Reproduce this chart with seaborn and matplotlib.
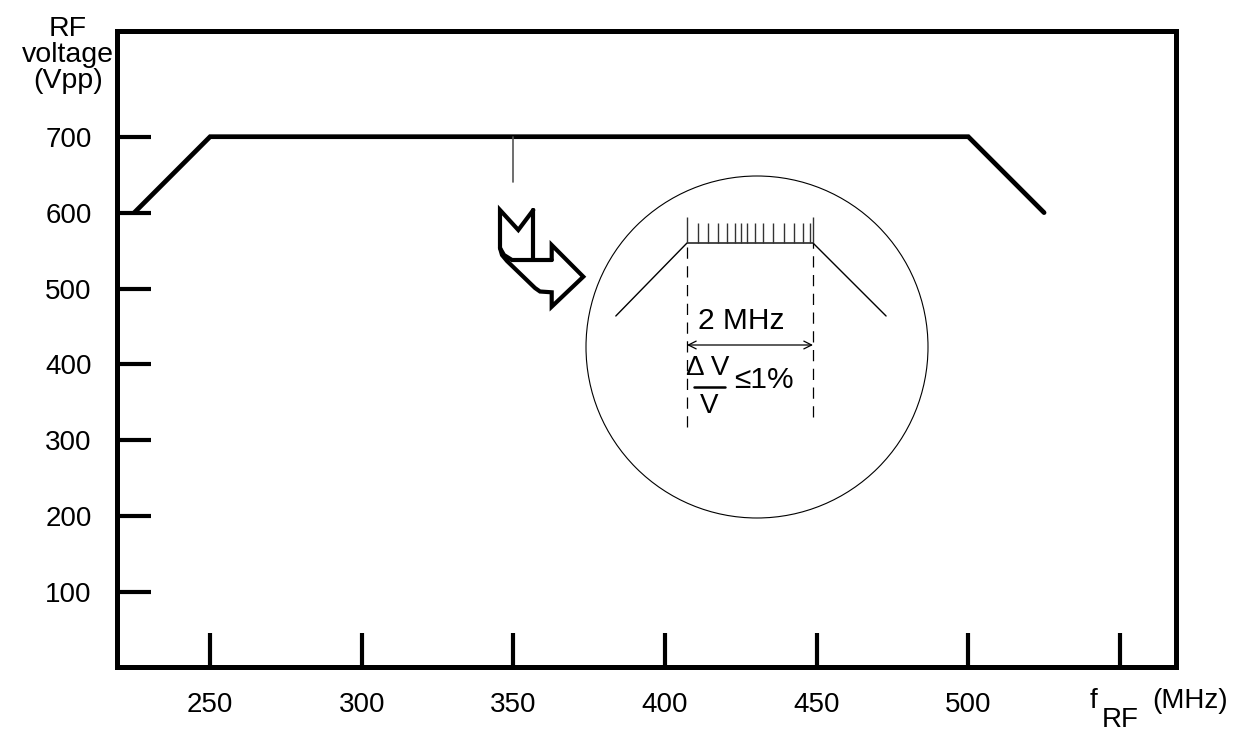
import matplotlib
matplotlib.use("Agg")
import matplotlib.pyplot as plt
import matplotlib.transforms as mtransforms
from matplotlib.patches import Ellipse
import seaborn as sns
import pandas as pd

# ---- data ----
freq_mhz = [225, 250, 500, 525]
rf_voltage = [600, 700, 700, 600]
x_ticks = [250, 300, 350, 400, 450, 500, 550]
x_tick_labels = ["250", "300", "350", "400", "450", "500", ""]
y_ticks = [100, 200, 300, 400, 500, 600, 700]
y_tick_labels = ["100", "200", "300", "400", "500", "600", "700"]
marker_freq = [350, 350]
marker_volt = [700, 640]

# inset detail (relative MHz around the marker, relative level)
detail_freq = [-2.13, -1.0, 1.0, 2.16]
detail_level = [-1.0, 0.0, 0.0, -1.0]
ripple_freq = [-0.995, -0.83, -0.67, -0.51, -0.36, -0.24, -0.14, -0.04,
               0.08, 0.2, 0.37, 0.54, 0.70, 0.84, 0.95, 1.0]
ripple_top = [0.35, 0.27, 0.27, 0.27, 0.27, 0.27, 0.27, 0.27,
              0.27, 0.27, 0.27, 0.27, 0.27, 0.27, 0.27, 0.35]

W, H = 1246, 734
sns.set_style("white")
FAM = ["Liberation Sans", "DejaVu Sans"]
plt.rcParams["font.family"] = FAM
plt.rcParams["text.color"] = "black"

fig = plt.figure(figsize=(W / 100, H / 100), dpi=100)
pix = mtransforms.Affine2D().scale(1 / W, -1 / H).translate(0, 1) + fig.transFigure

ax = fig.add_axes([116.7 / W, 1 - 666.7 / H, (1176 - 116.7) / W, (666.7 - 30.7) / H])
df = pd.DataFrame({"f": freq_mhz, "v": rf_voltage})
sns.lineplot(data=df, x="f", y="v", ax=ax, color="black", linewidth=3.4,
             sort=False, estimator=None, solid_joinstyle="miter")
ax.plot(marker_freq, marker_volt, color="#555555", linewidth=1.2)

ax.set_xlim(219.2, 568.5)
ax.set_ylim(2, 839.6)
ax.set_xticks(x_ticks)
ax.set_xticklabels(x_tick_labels)
ax.set_yticks(y_ticks)
ax.set_yticklabels(y_tick_labels)
ax.tick_params(bottom=True, left=True, top=False, right=False,
               direction="in", length=24.5, width=3.0, labelsize=20,
               colors="black")
ax.tick_params(axis="x", pad=18)
ax.tick_params(axis="y", pad=18)
for t in ax.xaxis.get_major_ticks() + ax.yaxis.get_major_ticks():
    t.tick1line.set_solid_capstyle("round")
ax.set_xlabel("")
ax.set_ylabel("")
for s in ax.spines.values():
    s.set_visible(True)
    s.set_linewidth(3.6)
    s.set_color("black")
ax.grid(False)

# axis titles
fig.text(68, 55, "RF\nvoltage\n(Vpp)", transform=pix, ha="center", va="center",
         fontsize=20.5, linespacing=1.0, multialignment="center")
fig.text(1090, 701, "f", transform=pix, ha="left", va="center", fontsize=20)
fig.text(1102, 720, "RF", transform=pix, ha="left", va="center", fontsize=20)
fig.text(1152, 701, "(MHz)", transform=pix, ha="left", va="center", fontsize=20)

# hollow bent arrow
outer = [(533.3, 210), (518.3, 230), (500, 210), (500, 248), (502, 255),
         (507, 261), (535, 288), (540, 291.5), (551.7, 292.3), (551.7, 306.7),
         (583.3, 276.7), (551.7, 245), (551.7, 260)]
inner = [(500, 248), (504, 255), (512, 260), (551.7, 260)]
stem = [(533.3, 260), (533.3, 210)]
for pts in (outer, inner, stem):
    xs, ys = zip(*pts)
    fig.add_artist(plt.Line2D(xs, ys, transform=pix, color="black",
                              linewidth=3.0, solid_joinstyle="miter"))

# inset axes (square, 342 px)
cx, cy, r = 757, 347, 171
ax_in = fig.add_axes([(cx - r) / W, 1 - (cy + r) / H, 2 * r / W, 2 * r / H])
ax_in.set_xlim((cx - r - 750) / 63, (cx + r - 750) / 63)
ax_in.set_ylim(-(cy + r - 243) / 73, (243 - (cy - r)) / 73)
ax_in.axis("off")
ax_in.patch.set_alpha(0)
ax_in.add_patch(Ellipse((0.5, 0.5), 1.0, 1.0, transform=ax_in.transAxes,
                        fill=False, edgecolor="black", linewidth=0.8,
                        clip_on=False))
dd = pd.DataFrame({"f": detail_freq, "v": detail_level})
sns.lineplot(data=dd, x="f", y="v", ax=ax_in, color="black", linewidth=1.0,
             sort=False, estimator=None)
ax_in.vlines(ripple_freq, 0, ripple_top, color="#333333", linewidth=1.0)
ax_in.vlines([detail_freq[1]], -2.52, 0, color="black", linewidth=0.9,
             linestyles=(0, (9, 6)))
ax_in.vlines([detail_freq[2]], -2.38, 0, color="black", linewidth=0.9,
             linestyles=(0, (9, 6)))
ax_in.set_xlabel("")
ax_in.set_ylabel("")
if ax_in.get_legend():
    ax_in.get_legend().remove()

# inset annotations (pixel positions)
fig.text(741, 321, "2 MHz", transform=pix, ha="center", va="center", fontsize=21.5)
ax_in.annotate("", xy=(813, 345), xytext=(687, 345), xycoords=pix, textcoords=pix,
               arrowprops=dict(arrowstyle="<->", color="black", lw=0.9,
                               shrinkA=0, shrinkB=0, mutation_scale=14))
fig.text(708, 368, "Δ V", transform=pix, ha="center", va="center", fontsize=20)
fig.add_artist(plt.Line2D([694, 725], [387, 387], transform=pix, color="black",
                          linewidth=1.8))
fig.text(709, 406, "V", transform=pix, ha="center", va="center", fontsize=20)
fig.text(734, 380, "≤1%", transform=pix, ha="left", va="center", fontsize=21.5)

fig.savefig("out.png", dpi=100)
